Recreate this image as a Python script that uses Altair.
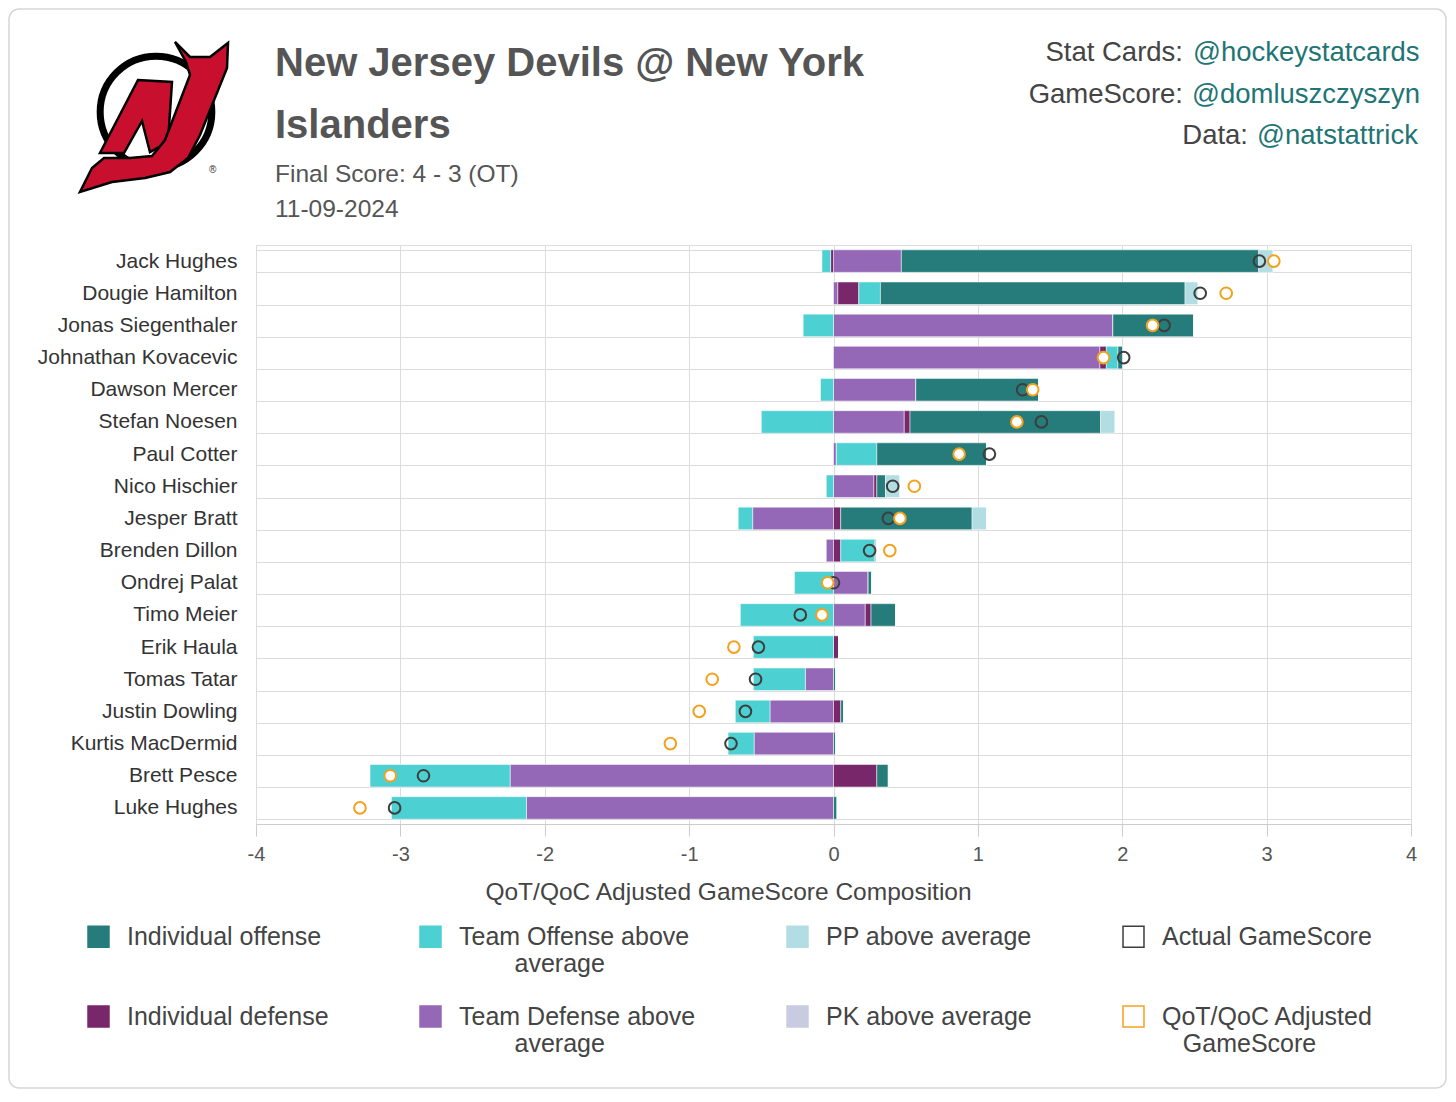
import altair as alt
import pandas as pd

FONT = "Liberation Sans"

players = ["Jack Hughes", "Dougie Hamilton", "Jonas Siegenthaler", "Johnathan Kovacevic",
           "Dawson Mercer", "Stefan Noesen", "Paul Cotter", "Nico Hischier", "Jesper Bratt",
           "Brenden Dillon", "Ondrej Palat", "Timo Meier", "Erik Haula", "Tomas Tatar",
           "Justin Dowling", "Kurtis MacDermid", "Brett Pesce", "Luke Hughes"]

team_defense = [0.47, 0.03, 1.935, 1.845, 0.57, 0.49, 0.02, 0.28, -0.56, -0.05, 0.24, 0.22,
                0.0, -0.195, -0.44, -0.55, -2.24, -2.127]
indiv_defense = [-0.02, 0.145, 0.0, 0.045, 0.0, 0.04, 0.0, 0.02, 0.05, 0.05, 0.0, 0.04,
                 0.035, 0.0, 0.05, 0.0, 0.30, 0.0]
team_offense = [-0.06, 0.15, -0.21, 0.08, -0.09, -0.50, 0.28, -0.05, -0.10, 0.235, -0.27, -0.645,
                -0.555, -0.36, -0.24, -0.18, -0.97, -0.935]
indiv_offense = [2.475, 2.11, 0.56, 0.035, 0.85, 1.32, 0.76, 0.06, 0.91, 0.01, 0.025, 0.17,
                 0.0, 0.015, 0.02, 0.015, 0.08, 0.025]
pp_above = [0.10, 0.09, 0.0, 0.0, 0.0, 0.10, 0.0, 0.10, 0.10, 0.0, 0.0, 0.0,
            0.0, 0.0, 0.0, 0.0, 0.0, 0.0]
pk_above = [0.0] * 18
actual_gs = [2.95, 2.54, 2.29, 2.01, 1.31, 1.44, 1.08, 0.41, 0.38, 0.25, 0.00, -0.23,
             -0.52, -0.54, -0.61, -0.71, -2.84, -3.04]
adjusted_gs = [3.05, 2.72, 2.21, 1.87, 1.38, 1.27, 0.87, 0.56, 0.46, 0.39, -0.04, -0.08,
               -0.69, -0.84, -0.93, -1.13, -3.07, -3.28]

stack_components = ["Team Defense above average", "Individual defense", "Team Offense above average",
                    "Individual offense", "PP above average", "PK above average"]
stack_values = [team_defense, indiv_defense, team_offense, indiv_offense, pp_above, pk_above]

# legend entries (filled column by column: 2 rows x 4 columns)
legend_domain = ["Individual offense", "Individual defense",
                 "Team Offense above average", "Team Defense above average",
                 "PP above average", "PK above average",
                 "Actual GameScore", "QoT/QoC Adjusted GameScore"]
fill_range = ["#267b7b", "#78276a", "#4dd0d1", "#9468b7", "#b2dde2", "#c9cbe1", "transparent", "#ffffff"]
stroke_range = ["#267b7b", "#78276a", "#4dd0d1", "#9468b7", "#b2dde2", "#c9cbe1", "#3d3d3d", "#f3a21f"]

rows = []
for ci, (comp, vals) in enumerate(zip(stack_components, stack_values)):
    for p, v in zip(players, vals):
        rows.append({"player": p, "series": comp, "value": v, "ord": ci})
bars_df = pd.DataFrame(rows)

pts = []
for p, a, q in zip(players, actual_gs, adjusted_gs):
    pts.append({"player": p, "series": "Actual GameScore", "value": a})
    pts.append({"player": p, "series": "QoT/QoC Adjusted GameScore", "value": q})
pts_df = pd.DataFrame(pts)

ZW = "\u200b"
NB = "\u00a0"
label_expr = ("datum.label == 'Team Offense above average' ? ['Team Offense above', '" + ZW + NB * 8 + "average'] : "
              "datum.label == 'Team Defense above average' ? ['Team Defense above', '" + ZW + NB * 8 + "average'] : "
              "datum.label == 'QoT/QoC Adjusted GameScore' ? ['QoT/QoC Adjusted', '" + ZW + NB * 3 + "GameScore'] : "
              "[datum.label, '" + ZW + NB + "']")

legend = alt.Legend(title=None, orient="none", legendX=-170, legendY=679, columns=4,
                    columnPadding=88, rowPadding=26, symbolType="square", symbolSize=440,
                    symbolStrokeWidth=1.5, labelFont=FONT, labelFontSize=25, labelColor="#444",
                    labelLimit=400, labelOffset=16, labelExpr=label_expr)

fill_scale = alt.Scale(domain=legend_domain, range=fill_range)
stroke_scale = alt.Scale(domain=legend_domain, range=stroke_range)

y_enc = alt.Y("player:N", sort=players,
              scale=alt.Scale(paddingInner=0.3, paddingOuter=0.15),
              axis=alt.Axis(title=None, labelFont=FONT, labelFontSize=21, labelColor="#333",
                            ticks=False, tickSize=0, domain=False, grid=True, tickBand="extent",
                            gridColor="#dcdcdc", labelPadding=19, labelLimit=300))

x_axis = alt.Axis(values=[-4, -3, -2, -1, 0, 1, 2, 3, 4], title="QoT/QoC Adjusted GameScore Composition",
                  labelExpr="toString(datum.value)", labelFlush=False,
                  labelFont=FONT, labelFontSize=20, labelColor="#555", tickColor="#cccccc",
                  tickSize=12, domainColor="#cccccc", gridColor="#dcdcdc", labelPadding=8,
                  titleFont=FONT, titleFontSize=24.5, titleColor="#444", titleFontWeight="normal",
                  titleX=472, titleY=68, titleBaseline="middle", titleAlign="center")
x_scale = alt.Scale(domain=[-4, 4], nice=False)

bars = alt.Chart(bars_df).mark_bar(stroke="white", strokeWidth=0.5).encode(
    y=y_enc,
    x=alt.X("value:Q", stack="zero", scale=x_scale, axis=x_axis),
    fill=alt.Fill("series:N", scale=fill_scale, legend=legend),
    order=alt.Order("ord:Q", sort="ascending"),
)

points = alt.Chart(pts_df).mark_point(shape="circle", size=135, strokeWidth=2, opacity=1, filled=False).encode(
    y=alt.Y("player:N", sort=players),
    x=alt.X("value:Q", stack=None, scale=x_scale, axis=x_axis),
    fill=alt.Fill("series:N", scale=fill_scale, legend=legend),
    stroke=alt.Stroke("series:N", scale=stroke_scale, legend=legend),
)

one = pd.DataFrame({"k": [0]})


def txt(text, x, y, size, color, weight="normal", align="left"):
    return alt.Chart(one).mark_text(text=text, align=align, baseline="middle", font=FONT,
                                    fontSize=size, color=color, fontWeight=weight).encode(
        x=alt.value(x), y=alt.value(y))


OX, OY = 256, 245  # page position of plot origin
header = [
    txt("New Jersey Devils @ New York", 275 - OX, 64 - OY, 40, "#555555", "bold"),
    txt("Islanders", 275 - OX, 126 - OY, 40, "#555555", "bold"),
    txt("Final Score: 4 - 3 (OT)", 275 - OX, 175 - OY, 24.5, "#555555"),
    txt("11-09-2024", 275 - OX, 210 - OY, 24.5, "#555555"),
    txt("Stat Cards:", 1183 - OX, 53 - OY, 27.5, "#444444", align="right"),
    txt("@hockeystatcards", 1193 - OX, 53 - OY, 27.5, "#1f7575"),
    txt("GameScore:", 1183 - OX, 95 - OY, 27.5, "#444444", align="right"),
    txt("@domluszczyszyn", 1192 - OX, 95 - OY, 27.5, "#1f7575"),
    txt("Data:", 1248 - OX, 136 - OY, 27.5, "#444444", align="right"),
    txt("@natstattrick", 1257 - OX, 136 - OY, 27.5, "#1f7575"),
]

# logo (approximation): black ring, red J with horns and tail, red N legs
LCX, LCY, U = 156, 112, 80
j_px = [(175, 42), (190, 57), (210, 57), (228, 43), (227, 68), (200, 135), (188, 158), (170, 172),
        (145, 178), (112, 182), (80, 192), (92, 168), (104, 158), (130, 158), (152, 156), (165, 140),
        (190, 75), (186, 62)]
n_px = [(138, 80), (172, 82), (168, 142), (150, 152), (142, 121), (124, 153), (100, 153)]


def to_path(pts_px):
    return "M " + " L ".join(f"{(px - LCX) / U:.4f} {(py - LCY) / U:.4f}" for px, py in pts_px) + " Z"


ring = alt.Chart(one).mark_point(shape="circle", size=3.1416 * 63 * 63, filled=False, stroke="black",
                                 strokeWidth=7, opacity=1).encode(x=alt.value(LCX - OX), y=alt.value(LCY - OY))
red_n = alt.Chart(one).mark_point(shape=to_path(n_px), size=(2 * U) ** 2, filled=True, fill="#c8102e",
                                  stroke="black", strokeWidth=2.5, opacity=1).encode(
    x=alt.value(LCX - OX), y=alt.value(LCY - OY))
red_j = alt.Chart(one).mark_point(shape=to_path(j_px), size=(2 * U) ** 2, filled=True, fill="#c8102e",
                                  stroke="black", strokeWidth=2.5, opacity=1).encode(
    x=alt.value(LCX - OX), y=alt.value(LCY - OY))
reg = txt("®", 209 - OX, 170 - OY, 10, "#333333")

border = alt.Chart(one).mark_rect(fill="transparent", stroke="#d6d6d6", strokeWidth=1.5, cornerRadius=10).encode(
    x=alt.value(9 - OX), x2=alt.value(1446 - OX), y=alt.value(9 - OY), y2=alt.value(1088 - OY))

chart = alt.layer(border, bars, points, ring, red_n, red_j, reg, *header).properties(
    width=1155, height=579,
    autosize=alt.AutoSizeParams(type="none"),
    padding={"left": 248, "top": 237, "right": 37, "bottom": 266},
).configure_view(stroke=None).configure(background="white")

chart.save("out.html", embed_options={"renderer": "svg", "actions": False})
